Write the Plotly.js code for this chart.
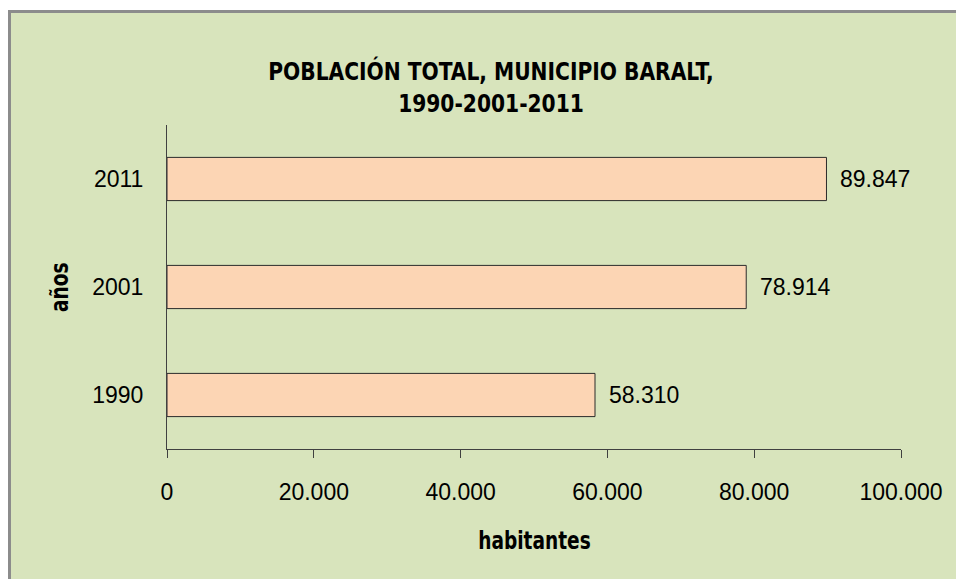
<!DOCTYPE html>
<html>
<head>
<meta charset="utf-8">
<script src="https://cdn.plot.ly/plotly-3.0.1.min.js"></script>
<style>
  html, body { margin: 0; padding: 0; background: #ffffff; overflow: hidden; width: 956px; height: 579px; }
  #frame { position: absolute; left: 8px; top: 10px; width: 960px; height: 580px;
           border-left: 3px solid #8c8c8c; border-top: 3px solid #8c8c8c; background: #d8e4bc; }
  #chart { position: absolute; left: 0; top: 0; width: 945px; height: 566px; }
</style>
</head>
<body>
<div id="frame"><div id="chart"></div></div>
<script>
const years = ['1990', '2001', '2011'];
const population = [58310, 78914, 89847];
const populationLabels = ['58.310', '78.914', '89.847'];
const xTickValues = [0, 20000, 40000, 60000, 80000, 100000];
const xTickLabels = ['0', '20.000', '40.000', '60.000', '80.000', '100.000'];
const chartTitle = 'POBLACIÓN TOTAL, MUNICIPIO BARALT,<br>1990-2001-2011';
const xTitle = 'habitantes';
const yTitle = 'años';

const narrowBold = '"Liberation Sans Narrow", "Arial Narrow", "DejaVu Sans Condensed", sans-serif';
const regular = '"Liberation Sans", Arial, sans-serif';

const trace = {
  type: 'bar',
  orientation: 'h',
  x: population,
  y: years,
  marker: { color: '#fcd5b4', line: { color: '#2b2b2b', width: 1 } },
  hoverinfo: 'none'
};

const plotW = 945 - 155.5 - 55, plotH = 566 - 112 - 130;

const annotations = population.map((v, i) => ({
  x: v, y: i, xref: 'x', yref: 'y',
  text: populationLabels[i], showarrow: false,
  xanchor: 'left', yanchor: 'middle', xshift: 12,
  font: { family: regular, size: 23, color: '#000000' }
}));

annotations.push({
  x: (523 - 155.5) / plotW, y: -((541 - 13) - (566 - 130)) / plotH,
  xref: 'paper', yref: 'paper',
  text: xTitle, showarrow: false, xanchor: 'center', yanchor: 'middle',
  font: { family: narrowBold, size: 24, color: '#000000', weight: 'bold' }
});

annotations.push({
  x: (59.5 - 11 - 155.5) / plotW, y: 1 - ((287 - 13) - 112) / plotH,
  xref: 'paper', yref: 'paper', text: yTitle, showarrow: false,
  textangle: -90, xanchor: 'center', yanchor: 'middle',
  font: { family: narrowBold, size: 24, color: '#000000', weight: 'bold' }
});

const layout = {
  width: 945, height: 566,
  margin: { l: 155.5, r: 55, t: 112, b: 130, pad: 0 },
  paper_bgcolor: '#d8e4bc',
  plot_bgcolor: '#d8e4bc',
  showlegend: false,
  bargap: 0.6,
  title: {
    text: chartTitle,
    font: { family: narrowBold, size: 25, color: '#000000', weight: 'bold' },
    xref: 'container', yref: 'container',
    x: 480 / 945, y: 1 - 67 / 566, xanchor: 'center', yanchor: 'middle'
  },
  xaxis: {
    range: [0, 100000],
    tickvals: xTickValues,
    ticktext: xTickLabels,
    ticks: 'outside', ticklen: 8, tickwidth: 1, tickcolor: '#404040',
    showline: true, linecolor: '#404040', linewidth: 1,
    showgrid: false, zeroline: false,
    ticklabelstandoff: 14,
    tickfont: { family: regular, size: 23, color: '#000000' },
    fixedrange: true
  },
  yaxis: {
    type: 'category',
    range: [-0.5, 2.5],
    ticks: '',
    showline: true, linecolor: '#404040', linewidth: 1,
    showgrid: false, zeroline: false,
    ticklabelstandoff: 18,
    tickfont: { family: regular, size: 23, color: '#000000' },
    fixedrange: true
  },
  annotations: annotations
};

function squeeze(el, sx) {
  if (!el) return;
  const bb = el.getBBox();
  const cx = bb.x + bb.width / 2;
  const old = el.getAttribute('transform') || '';
  el.setAttribute('transform', (old + ' translate(' + cx + ',0) scale(' + sx + ',1) translate(' + (-cx) + ',0)').trim());
}

Plotly.newPlot('chart', [trace], layout, { staticPlot: true, displayModeBar: false }).then(function () {
  squeeze(document.querySelector('.gtitle'), 0.9);
  document.querySelectorAll('.annotation-text').forEach(function (t) {
    if (t.textContent === xTitle) squeeze(t, 0.86);
    if (t.textContent === yTitle) squeeze(t, 0.86);
  });
});
</script>
</body>
</html>
